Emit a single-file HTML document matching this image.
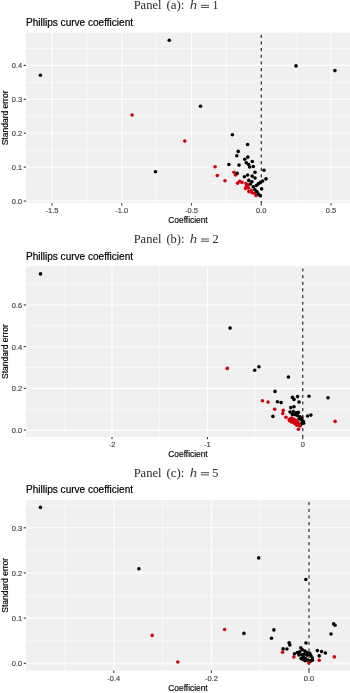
<!DOCTYPE html>
<html><head><meta charset="utf-8"><title>Phillips curve coefficient</title>
<style>html,body{margin:0;padding:0;background:#fff;}body{width:350px;height:693px;overflow:hidden;font-family:"Liberation Sans", sans-serif;}svg{display:block;filter:blur(0.3px);}</style>
</head><body>
<svg width="350" height="693" viewBox="0 0 350 693">
<rect x="0" y="0" width="350" height="693" fill="#ffffff"/>
<rect x="26" y="32.6" width="324" height="170.6" fill="#EFF0EF"/>
<line x1="86.88" y1="32.6" x2="86.88" y2="203.2" stroke="#fff" stroke-width="0.55"/>
<line x1="156.62" y1="32.6" x2="156.62" y2="203.2" stroke="#fff" stroke-width="0.55"/>
<line x1="226.38" y1="32.6" x2="226.38" y2="203.2" stroke="#fff" stroke-width="0.55"/>
<line x1="296.12" y1="32.6" x2="296.12" y2="203.2" stroke="#fff" stroke-width="0.55"/>
<line x1="26" y1="184.05" x2="350" y2="184.05" stroke="#fff" stroke-width="0.55"/>
<line x1="26" y1="150.15" x2="350" y2="150.15" stroke="#fff" stroke-width="0.55"/>
<line x1="26" y1="116.25" x2="350" y2="116.25" stroke="#fff" stroke-width="0.55"/>
<line x1="26" y1="82.35" x2="350" y2="82.35" stroke="#fff" stroke-width="0.55"/>
<line x1="26" y1="48.45" x2="350" y2="48.45" stroke="#fff" stroke-width="0.55"/>
<line x1="52" y1="32.6" x2="52" y2="203.2" stroke="#fff" stroke-width="1.07"/>
<line x1="121.75" y1="32.6" x2="121.75" y2="203.2" stroke="#fff" stroke-width="1.07"/>
<line x1="191.5" y1="32.6" x2="191.5" y2="203.2" stroke="#fff" stroke-width="1.07"/>
<line x1="261.25" y1="32.6" x2="261.25" y2="203.2" stroke="#fff" stroke-width="1.07"/>
<line x1="331" y1="32.6" x2="331" y2="203.2" stroke="#fff" stroke-width="1.07"/>
<line x1="26" y1="201" x2="350" y2="201" stroke="#fff" stroke-width="1.07"/>
<line x1="26" y1="167.1" x2="350" y2="167.1" stroke="#fff" stroke-width="1.07"/>
<line x1="26" y1="133.2" x2="350" y2="133.2" stroke="#fff" stroke-width="1.07"/>
<line x1="26" y1="99.3" x2="350" y2="99.3" stroke="#fff" stroke-width="1.07"/>
<line x1="26" y1="65.4" x2="350" y2="65.4" stroke="#fff" stroke-width="1.07"/>
<line x1="261.25" y1="32.6" x2="261.25" y2="203.2" stroke="#111" stroke-width="1.07" stroke-dasharray="3.2 3.45" stroke-dashoffset="4.55"/>
<circle cx="132.1" cy="115" r="1.8" fill="#D0000F"/>
<circle cx="184.8" cy="141.1" r="1.8" fill="#D0000F"/>
<circle cx="215.1" cy="166.8" r="1.8" fill="#D0000F"/>
<circle cx="217.3" cy="175.6" r="1.8" fill="#D0000F"/>
<circle cx="225" cy="180.8" r="1.8" fill="#D0000F"/>
<circle cx="234" cy="172.3" r="1.8" fill="#D0000F"/>
<circle cx="235.5" cy="174.9" r="1.8" fill="#D0000F"/>
<circle cx="239.6" cy="181.2" r="1.8" fill="#D0000F"/>
<circle cx="237.6" cy="183.2" r="1.8" fill="#D0000F"/>
<circle cx="242" cy="182.4" r="1.8" fill="#D0000F"/>
<circle cx="246" cy="183.6" r="1.8" fill="#D0000F"/>
<circle cx="246.4" cy="186.4" r="1.8" fill="#D0000F"/>
<circle cx="245.6" cy="188.4" r="1.8" fill="#D0000F"/>
<circle cx="248.4" cy="188" r="1.8" fill="#D0000F"/>
<circle cx="248.8" cy="191.6" r="1.8" fill="#D0000F"/>
<circle cx="251.2" cy="190.4" r="1.8" fill="#D0000F"/>
<circle cx="252" cy="192.8" r="1.8" fill="#D0000F"/>
<circle cx="254.4" cy="193.2" r="1.8" fill="#D0000F"/>
<circle cx="256" cy="195.6" r="1.8" fill="#D0000F"/>
<circle cx="248" cy="185" r="1.8" fill="#D0000F"/>
<circle cx="40.4" cy="75.3" r="1.8" fill="#000000"/>
<circle cx="169.3" cy="40.3" r="1.8" fill="#000000"/>
<circle cx="200.5" cy="106.2" r="1.8" fill="#000000"/>
<circle cx="155.5" cy="171.7" r="1.8" fill="#000000"/>
<circle cx="296" cy="65.9" r="1.8" fill="#000000"/>
<circle cx="334.9" cy="70.6" r="1.8" fill="#000000"/>
<circle cx="232.4" cy="134.7" r="1.8" fill="#000000"/>
<circle cx="238.2" cy="151.4" r="1.8" fill="#000000"/>
<circle cx="236.8" cy="155.8" r="1.8" fill="#000000"/>
<circle cx="228.9" cy="164.5" r="1.8" fill="#000000"/>
<circle cx="239" cy="165.1" r="1.8" fill="#000000"/>
<circle cx="247.6" cy="144.5" r="1.8" fill="#000000"/>
<circle cx="247.9" cy="157.1" r="1.8" fill="#000000"/>
<circle cx="244.8" cy="159.2" r="1.8" fill="#000000"/>
<circle cx="252.3" cy="161.5" r="1.8" fill="#000000"/>
<circle cx="246.3" cy="162.7" r="1.8" fill="#000000"/>
<circle cx="248.6" cy="164.6" r="1.8" fill="#000000"/>
<circle cx="249.6" cy="167" r="1.8" fill="#000000"/>
<circle cx="253.3" cy="166.5" r="1.8" fill="#000000"/>
<circle cx="264" cy="170.3" r="1.8" fill="#000000"/>
<circle cx="255" cy="172.3" r="1.8" fill="#000000"/>
<circle cx="252.2" cy="176.1" r="1.8" fill="#000000"/>
<circle cx="255" cy="178" r="1.8" fill="#000000"/>
<circle cx="244.4" cy="176.8" r="1.8" fill="#000000"/>
<circle cx="247.6" cy="175" r="1.8" fill="#000000"/>
<circle cx="266" cy="178.9" r="1.8" fill="#000000"/>
<circle cx="262.6" cy="181.1" r="1.8" fill="#000000"/>
<circle cx="260.4" cy="182.4" r="1.8" fill="#000000"/>
<circle cx="258.2" cy="183.9" r="1.8" fill="#000000"/>
<circle cx="256.3" cy="185.5" r="1.8" fill="#000000"/>
<circle cx="251.9" cy="181.7" r="1.8" fill="#000000"/>
<circle cx="248.8" cy="180.4" r="1.8" fill="#000000"/>
<circle cx="250.4" cy="184" r="1.8" fill="#000000"/>
<circle cx="261.6" cy="188.8" r="1.8" fill="#000000"/>
<circle cx="253.2" cy="186.8" r="1.8" fill="#000000"/>
<circle cx="254.8" cy="189.6" r="1.8" fill="#000000"/>
<circle cx="256.8" cy="191.6" r="1.8" fill="#000000"/>
<circle cx="258.4" cy="194" r="1.8" fill="#000000"/>
<circle cx="260" cy="195.6" r="1.8" fill="#000000"/>
<circle cx="237.2" cy="173.4" r="1.8" fill="#000000"/>
<line x1="52" y1="203.2" x2="52" y2="205.5" stroke="#333" stroke-width="1.07"/>
<text x="52" y="213.2" font-family='"Liberation Sans", sans-serif' font-size="7.5" fill="#444444" stroke="#444444" stroke-width="0.15" text-anchor="middle">-1.5</text>
<line x1="121.75" y1="203.2" x2="121.75" y2="205.5" stroke="#333" stroke-width="1.07"/>
<text x="121.75" y="213.2" font-family='"Liberation Sans", sans-serif' font-size="7.5" fill="#444444" stroke="#444444" stroke-width="0.15" text-anchor="middle">-1.0</text>
<line x1="191.5" y1="203.2" x2="191.5" y2="205.5" stroke="#333" stroke-width="1.07"/>
<text x="191.5" y="213.2" font-family='"Liberation Sans", sans-serif' font-size="7.5" fill="#444444" stroke="#444444" stroke-width="0.15" text-anchor="middle">-0.5</text>
<line x1="261.25" y1="203.2" x2="261.25" y2="205.5" stroke="#333" stroke-width="1.07"/>
<text x="261.25" y="213.2" font-family='"Liberation Sans", sans-serif' font-size="7.5" fill="#444444" stroke="#444444" stroke-width="0.15" text-anchor="middle">0.0</text>
<line x1="331" y1="203.2" x2="331" y2="205.5" stroke="#333" stroke-width="1.07"/>
<text x="331" y="213.2" font-family='"Liberation Sans", sans-serif' font-size="7.5" fill="#444444" stroke="#444444" stroke-width="0.15" text-anchor="middle">0.5</text>
<line x1="23.7" y1="201" x2="26" y2="201" stroke="#333" stroke-width="1.07"/>
<text x="22.3" y="203.9" font-family='"Liberation Sans", sans-serif' font-size="7.5" fill="#444444" stroke="#444444" stroke-width="0.15" text-anchor="end">0.0</text>
<line x1="23.7" y1="167.1" x2="26" y2="167.1" stroke="#333" stroke-width="1.07"/>
<text x="22.3" y="170" font-family='"Liberation Sans", sans-serif' font-size="7.5" fill="#444444" stroke="#444444" stroke-width="0.15" text-anchor="end">0.1</text>
<line x1="23.7" y1="133.2" x2="26" y2="133.2" stroke="#333" stroke-width="1.07"/>
<text x="22.3" y="136.1" font-family='"Liberation Sans", sans-serif' font-size="7.5" fill="#444444" stroke="#444444" stroke-width="0.15" text-anchor="end">0.2</text>
<line x1="23.7" y1="99.3" x2="26" y2="99.3" stroke="#333" stroke-width="1.07"/>
<text x="22.3" y="102.2" font-family='"Liberation Sans", sans-serif' font-size="7.5" fill="#444444" stroke="#444444" stroke-width="0.15" text-anchor="end">0.3</text>
<line x1="23.7" y1="65.4" x2="26" y2="65.4" stroke="#333" stroke-width="1.07"/>
<text x="22.3" y="68.3" font-family='"Liberation Sans", sans-serif' font-size="7.5" fill="#444444" stroke="#444444" stroke-width="0.15" text-anchor="end">0.4</text>
<text x="188" y="223.2" font-family='"Liberation Sans", sans-serif' font-size="8.4" fill="#000" stroke="#000" stroke-width="0.15" text-anchor="middle">Coefficient</text>
<text x="0" y="0" transform="translate(7.9 117.9) rotate(-90)" font-family='"Liberation Sans", sans-serif' font-size="8.5" fill="#000" stroke="#000" stroke-width="0.15" text-anchor="middle">Standard error</text>
<text x="26" y="26" font-family='"Liberation Sans", sans-serif' font-size="10.05" fill="#000" stroke="#000" stroke-width="0.2">Phillips curve coefficient</text>
<text x="0" y="0" transform="translate(133.64 9.10) scale(1.0132 1.080)" font-family='"Liberation Serif", serif' font-size="12.4" fill="#2a2a2a">Panel</text>
<text x="0" y="0" transform="translate(166.43 9.10) scale(1.0472 1.080)" font-family='"Liberation Serif", serif' font-size="12.4" fill="#2a2a2a">(a):</text>
<text x="0" y="0" transform="translate(189.87 9.10) scale(1.1848 1.080)" font-family='"Liberation Serif", serif' font-size="12.4" font-style="italic" fill="#3a3a3a">h</text>
<rect x="201.0" y="4.9" width="8.0" height="0.8" fill="#222"/>
<rect x="201.0" y="7.1" width="8.0" height="0.8" fill="#222"/>
<text x="0" y="0" transform="translate(212.55 9.10) scale(0.9622 1.080)" font-family='"Liberation Serif", serif' font-size="12.4" fill="#2a2a2a">1</text>
<rect x="26" y="266.3" width="324" height="170.6" fill="#EFF0EF"/>
<line x1="64.3" y1="266.3" x2="64.3" y2="436.9" stroke="#fff" stroke-width="0.55"/>
<line x1="159.7" y1="266.3" x2="159.7" y2="436.9" stroke="#fff" stroke-width="0.55"/>
<line x1="255.1" y1="266.3" x2="255.1" y2="436.9" stroke="#fff" stroke-width="0.55"/>
<line x1="26" y1="409.24" x2="350" y2="409.24" stroke="#fff" stroke-width="0.55"/>
<line x1="26" y1="367.52" x2="350" y2="367.52" stroke="#fff" stroke-width="0.55"/>
<line x1="26" y1="325.8" x2="350" y2="325.8" stroke="#fff" stroke-width="0.55"/>
<line x1="26" y1="284.08" x2="350" y2="284.08" stroke="#fff" stroke-width="0.55"/>
<line x1="112" y1="266.3" x2="112" y2="436.9" stroke="#fff" stroke-width="1.07"/>
<line x1="207.4" y1="266.3" x2="207.4" y2="436.9" stroke="#fff" stroke-width="1.07"/>
<line x1="302.8" y1="266.3" x2="302.8" y2="436.9" stroke="#fff" stroke-width="1.07"/>
<line x1="26" y1="430.1" x2="350" y2="430.1" stroke="#fff" stroke-width="1.07"/>
<line x1="26" y1="388.38" x2="350" y2="388.38" stroke="#fff" stroke-width="1.07"/>
<line x1="26" y1="346.66" x2="350" y2="346.66" stroke="#fff" stroke-width="1.07"/>
<line x1="26" y1="304.94" x2="350" y2="304.94" stroke="#fff" stroke-width="1.07"/>
<line x1="302.8" y1="266.3" x2="302.8" y2="436.9" stroke="#111" stroke-width="1.07" stroke-dasharray="3.2 3.45" stroke-dashoffset="4.55"/>
<circle cx="40.5" cy="273.9" r="1.8" fill="#000000"/>
<circle cx="230.1" cy="328.1" r="1.8" fill="#000000"/>
<circle cx="254.7" cy="370.2" r="1.8" fill="#000000"/>
<circle cx="258.9" cy="366.7" r="1.8" fill="#000000"/>
<circle cx="275" cy="391.4" r="1.8" fill="#000000"/>
<circle cx="288.4" cy="377" r="1.8" fill="#000000"/>
<circle cx="292.4" cy="397.4" r="1.8" fill="#000000"/>
<circle cx="294" cy="399.4" r="1.8" fill="#000000"/>
<circle cx="297.6" cy="396.6" r="1.8" fill="#000000"/>
<circle cx="309" cy="396.2" r="1.8" fill="#000000"/>
<circle cx="328" cy="397.7" r="1.8" fill="#000000"/>
<circle cx="277.4" cy="401.7" r="1.8" fill="#000000"/>
<circle cx="281.1" cy="402.6" r="1.8" fill="#000000"/>
<circle cx="299" cy="402.1" r="1.8" fill="#000000"/>
<circle cx="272.9" cy="416.4" r="1.8" fill="#000000"/>
<circle cx="290.8" cy="407.6" r="1.8" fill="#000000"/>
<circle cx="294" cy="406.8" r="1.8" fill="#000000"/>
<circle cx="290" cy="412" r="1.8" fill="#000000"/>
<circle cx="293.2" cy="411.6" r="1.8" fill="#000000"/>
<circle cx="296" cy="412.8" r="1.8" fill="#000000"/>
<circle cx="298.4" cy="412.4" r="1.8" fill="#000000"/>
<circle cx="292.4" cy="414.4" r="1.8" fill="#000000"/>
<circle cx="295.2" cy="414.8" r="1.8" fill="#000000"/>
<circle cx="297.6" cy="415.6" r="1.8" fill="#000000"/>
<circle cx="300" cy="416.8" r="1.8" fill="#000000"/>
<circle cx="302" cy="418" r="1.8" fill="#000000"/>
<circle cx="299.2" cy="418.8" r="1.8" fill="#000000"/>
<circle cx="301.6" cy="420" r="1.8" fill="#000000"/>
<circle cx="303.2" cy="421.2" r="1.8" fill="#000000"/>
<circle cx="302.4" cy="422.8" r="1.8" fill="#000000"/>
<circle cx="303.6" cy="423.2" r="1.8" fill="#000000"/>
<circle cx="300.8" cy="424.4" r="1.8" fill="#000000"/>
<circle cx="307.6" cy="416" r="1.8" fill="#000000"/>
<circle cx="310.9" cy="415.1" r="1.8" fill="#000000"/>
<circle cx="227.3" cy="368.4" r="1.8" fill="#D0000F"/>
<circle cx="262.4" cy="400.7" r="1.8" fill="#D0000F"/>
<circle cx="268.1" cy="402.1" r="1.8" fill="#D0000F"/>
<circle cx="274.7" cy="409.3" r="1.8" fill="#D0000F"/>
<circle cx="283.2" cy="410.4" r="1.8" fill="#D0000F"/>
<circle cx="282.8" cy="413.6" r="1.8" fill="#D0000F"/>
<circle cx="286" cy="417.2" r="1.8" fill="#D0000F"/>
<circle cx="290.4" cy="418.8" r="1.8" fill="#D0000F"/>
<circle cx="292.4" cy="419.6" r="1.8" fill="#D0000F"/>
<circle cx="294" cy="421.2" r="1.8" fill="#D0000F"/>
<circle cx="295.6" cy="422.4" r="1.8" fill="#D0000F"/>
<circle cx="297.6" cy="423.6" r="1.8" fill="#D0000F"/>
<circle cx="299.2" cy="424.8" r="1.8" fill="#D0000F"/>
<circle cx="300" cy="426" r="1.8" fill="#D0000F"/>
<circle cx="298.4" cy="429.2" r="1.8" fill="#D0000F"/>
<circle cx="290.8" cy="420.4" r="1.8" fill="#D0000F"/>
<circle cx="292.4" cy="422" r="1.8" fill="#D0000F"/>
<circle cx="294.8" cy="423.6" r="1.8" fill="#D0000F"/>
<circle cx="296.8" cy="425.2" r="1.8" fill="#D0000F"/>
<circle cx="289.2" cy="419.6" r="1.8" fill="#D0000F"/>
<circle cx="335.1" cy="421.4" r="1.8" fill="#D0000F"/>
<circle cx="291.6" cy="418" r="1.8" fill="#D0000F"/>
<circle cx="294" cy="419.2" r="1.8" fill="#D0000F"/>
<circle cx="296" cy="420.4" r="1.8" fill="#D0000F"/>
<circle cx="298" cy="422" r="1.8" fill="#D0000F"/>
<circle cx="289.6" cy="420.8" r="1.8" fill="#D0000F"/>
<circle cx="291.6" cy="422" r="1.8" fill="#D0000F"/>
<line x1="112" y1="436.9" x2="112" y2="439.2" stroke="#333" stroke-width="1.07"/>
<text x="112" y="446.9" font-family='"Liberation Sans", sans-serif' font-size="7.5" fill="#444444" stroke="#444444" stroke-width="0.15" text-anchor="middle">-2</text>
<line x1="207.4" y1="436.9" x2="207.4" y2="439.2" stroke="#333" stroke-width="1.07"/>
<text x="207.4" y="446.9" font-family='"Liberation Sans", sans-serif' font-size="7.5" fill="#444444" stroke="#444444" stroke-width="0.15" text-anchor="middle">-1</text>
<line x1="302.8" y1="436.9" x2="302.8" y2="439.2" stroke="#333" stroke-width="1.07"/>
<text x="302.8" y="446.9" font-family='"Liberation Sans", sans-serif' font-size="7.5" fill="#444444" stroke="#444444" stroke-width="0.15" text-anchor="middle">0</text>
<line x1="23.7" y1="430.1" x2="26" y2="430.1" stroke="#333" stroke-width="1.07"/>
<text x="22.3" y="433" font-family='"Liberation Sans", sans-serif' font-size="7.5" fill="#444444" stroke="#444444" stroke-width="0.15" text-anchor="end">0.0</text>
<line x1="23.7" y1="388.38" x2="26" y2="388.38" stroke="#333" stroke-width="1.07"/>
<text x="22.3" y="391.28" font-family='"Liberation Sans", sans-serif' font-size="7.5" fill="#444444" stroke="#444444" stroke-width="0.15" text-anchor="end">0.2</text>
<line x1="23.7" y1="346.66" x2="26" y2="346.66" stroke="#333" stroke-width="1.07"/>
<text x="22.3" y="349.56" font-family='"Liberation Sans", sans-serif' font-size="7.5" fill="#444444" stroke="#444444" stroke-width="0.15" text-anchor="end">0.4</text>
<line x1="23.7" y1="304.94" x2="26" y2="304.94" stroke="#333" stroke-width="1.07"/>
<text x="22.3" y="307.84" font-family='"Liberation Sans", sans-serif' font-size="7.5" fill="#444444" stroke="#444444" stroke-width="0.15" text-anchor="end">0.6</text>
<text x="188" y="456.9" font-family='"Liberation Sans", sans-serif' font-size="8.4" fill="#000" stroke="#000" stroke-width="0.15" text-anchor="middle">Coefficient</text>
<text x="0" y="0" transform="translate(7.9 351.6) rotate(-90)" font-family='"Liberation Sans", sans-serif' font-size="8.5" fill="#000" stroke="#000" stroke-width="0.15" text-anchor="middle">Standard error</text>
<text x="26" y="259.7" font-family='"Liberation Sans", sans-serif' font-size="10.05" fill="#000" stroke="#000" stroke-width="0.2">Phillips curve coefficient</text>
<text x="0" y="0" transform="translate(133.64 242.80) scale(1.0132 1.080)" font-family='"Liberation Serif", serif' font-size="12.4" fill="#2a2a2a">Panel</text>
<text x="0" y="0" transform="translate(166.45 242.80) scale(1.0027 1.080)" font-family='"Liberation Serif", serif' font-size="12.4" fill="#2a2a2a">(b):</text>
<text x="0" y="0" transform="translate(189.87 242.80) scale(1.1848 1.080)" font-family='"Liberation Serif", serif' font-size="12.4" font-style="italic" fill="#3a3a3a">h</text>
<rect x="201.0" y="238.6" width="8.0" height="0.8" fill="#222"/>
<rect x="201.0" y="240.8" width="8.0" height="0.8" fill="#222"/>
<text x="0" y="0" transform="translate(212.23 242.80) scale(1.0458 1.080)" font-family='"Liberation Serif", serif' font-size="12.4" fill="#2a2a2a">2</text>
<rect x="26" y="500" width="324" height="170.6" fill="#EFF0EF"/>
<line x1="65" y1="500" x2="65" y2="670.6" stroke="#fff" stroke-width="0.55"/>
<line x1="162.6" y1="500" x2="162.6" y2="670.6" stroke="#fff" stroke-width="0.55"/>
<line x1="260.2" y1="500" x2="260.2" y2="670.6" stroke="#fff" stroke-width="0.55"/>
<line x1="26" y1="640.71" x2="350" y2="640.71" stroke="#fff" stroke-width="0.55"/>
<line x1="26" y1="595.54" x2="350" y2="595.54" stroke="#fff" stroke-width="0.55"/>
<line x1="26" y1="550.38" x2="350" y2="550.38" stroke="#fff" stroke-width="0.55"/>
<line x1="26" y1="505.2" x2="350" y2="505.2" stroke="#fff" stroke-width="0.55"/>
<line x1="113.8" y1="500" x2="113.8" y2="670.6" stroke="#fff" stroke-width="1.07"/>
<line x1="211.4" y1="500" x2="211.4" y2="670.6" stroke="#fff" stroke-width="1.07"/>
<line x1="309" y1="500" x2="309" y2="670.6" stroke="#fff" stroke-width="1.07"/>
<line x1="26" y1="663.3" x2="350" y2="663.3" stroke="#fff" stroke-width="1.07"/>
<line x1="26" y1="618.13" x2="350" y2="618.13" stroke="#fff" stroke-width="1.07"/>
<line x1="26" y1="572.96" x2="350" y2="572.96" stroke="#fff" stroke-width="1.07"/>
<line x1="26" y1="527.79" x2="350" y2="527.79" stroke="#fff" stroke-width="1.07"/>
<line x1="309" y1="500" x2="309" y2="670.6" stroke="#111" stroke-width="1.07" stroke-dasharray="3.2 3.45" stroke-dashoffset="4.55"/>
<circle cx="40.4" cy="507.4" r="1.8" fill="#000000"/>
<circle cx="138.9" cy="568.8" r="1.8" fill="#000000"/>
<circle cx="258.7" cy="557.9" r="1.8" fill="#000000"/>
<circle cx="305.8" cy="579.5" r="1.8" fill="#000000"/>
<circle cx="243.9" cy="633.4" r="1.8" fill="#000000"/>
<circle cx="273.9" cy="629.9" r="1.8" fill="#000000"/>
<circle cx="271.5" cy="638.3" r="1.8" fill="#000000"/>
<circle cx="289.1" cy="642.8" r="1.8" fill="#000000"/>
<circle cx="289.8" cy="644.9" r="1.8" fill="#000000"/>
<circle cx="283.1" cy="648.9" r="1.8" fill="#000000"/>
<circle cx="286.9" cy="649" r="1.8" fill="#000000"/>
<circle cx="306" cy="643" r="1.8" fill="#000000"/>
<circle cx="300.8" cy="647.8" r="1.8" fill="#000000"/>
<circle cx="302.3" cy="649.7" r="1.8" fill="#000000"/>
<circle cx="294.5" cy="653.7" r="1.8" fill="#000000"/>
<circle cx="297.4" cy="652.6" r="1.8" fill="#000000"/>
<circle cx="299.7" cy="651.9" r="1.8" fill="#000000"/>
<circle cx="304.9" cy="651.1" r="1.8" fill="#000000"/>
<circle cx="307.1" cy="652.6" r="1.8" fill="#000000"/>
<circle cx="309.7" cy="653.4" r="1.8" fill="#000000"/>
<circle cx="310.8" cy="655.6" r="1.8" fill="#000000"/>
<circle cx="312.3" cy="657.8" r="1.8" fill="#000000"/>
<circle cx="301.1" cy="658.6" r="1.8" fill="#000000"/>
<circle cx="303.4" cy="657.1" r="1.8" fill="#000000"/>
<circle cx="305.6" cy="658.6" r="1.8" fill="#000000"/>
<circle cx="307.8" cy="660.1" r="1.8" fill="#000000"/>
<circle cx="310.4" cy="660.8" r="1.8" fill="#000000"/>
<circle cx="305.2" cy="660.7" r="1.8" fill="#000000"/>
<circle cx="303.1" cy="659.6" r="1.8" fill="#000000"/>
<circle cx="312.4" cy="660.2" r="1.8" fill="#000000"/>
<circle cx="310.3" cy="661.2" r="1.8" fill="#000000"/>
<circle cx="304.1" cy="654.1" r="1.8" fill="#000000"/>
<circle cx="298.9" cy="654.9" r="1.8" fill="#000000"/>
<circle cx="301.9" cy="654.9" r="1.8" fill="#000000"/>
<circle cx="307.1" cy="655.2" r="1.8" fill="#000000"/>
<circle cx="317.3" cy="650.6" r="1.8" fill="#000000"/>
<circle cx="321.6" cy="651.6" r="1.8" fill="#000000"/>
<circle cx="325.4" cy="653" r="1.8" fill="#000000"/>
<circle cx="319.2" cy="655.9" r="1.8" fill="#000000"/>
<circle cx="333.6" cy="623.9" r="1.8" fill="#000000"/>
<circle cx="335" cy="625.3" r="1.8" fill="#000000"/>
<circle cx="331" cy="634" r="1.8" fill="#000000"/>
<circle cx="152.2" cy="635.4" r="1.8" fill="#D0000F"/>
<circle cx="177.8" cy="662" r="1.8" fill="#D0000F"/>
<circle cx="224.6" cy="629.5" r="1.8" fill="#D0000F"/>
<circle cx="282.6" cy="652.2" r="1.8" fill="#D0000F"/>
<circle cx="293.9" cy="656.9" r="1.8" fill="#D0000F"/>
<circle cx="308.8" cy="663" r="1.8" fill="#D0000F"/>
<circle cx="319.2" cy="660.2" r="1.8" fill="#D0000F"/>
<circle cx="334.3" cy="656.9" r="1.8" fill="#D0000F"/>
<line x1="113.8" y1="670.6" x2="113.8" y2="672.9" stroke="#333" stroke-width="1.07"/>
<text x="113.8" y="680.6" font-family='"Liberation Sans", sans-serif' font-size="7.5" fill="#444444" stroke="#444444" stroke-width="0.15" text-anchor="middle">-0.4</text>
<line x1="211.4" y1="670.6" x2="211.4" y2="672.9" stroke="#333" stroke-width="1.07"/>
<text x="211.4" y="680.6" font-family='"Liberation Sans", sans-serif' font-size="7.5" fill="#444444" stroke="#444444" stroke-width="0.15" text-anchor="middle">-0.2</text>
<line x1="309" y1="670.6" x2="309" y2="672.9" stroke="#333" stroke-width="1.07"/>
<text x="309" y="680.6" font-family='"Liberation Sans", sans-serif' font-size="7.5" fill="#444444" stroke="#444444" stroke-width="0.15" text-anchor="middle">0.0</text>
<line x1="23.7" y1="663.3" x2="26" y2="663.3" stroke="#333" stroke-width="1.07"/>
<text x="22.3" y="666.2" font-family='"Liberation Sans", sans-serif' font-size="7.5" fill="#444444" stroke="#444444" stroke-width="0.15" text-anchor="end">0.0</text>
<line x1="23.7" y1="618.13" x2="26" y2="618.13" stroke="#333" stroke-width="1.07"/>
<text x="22.3" y="621.03" font-family='"Liberation Sans", sans-serif' font-size="7.5" fill="#444444" stroke="#444444" stroke-width="0.15" text-anchor="end">0.1</text>
<line x1="23.7" y1="572.96" x2="26" y2="572.96" stroke="#333" stroke-width="1.07"/>
<text x="22.3" y="575.86" font-family='"Liberation Sans", sans-serif' font-size="7.5" fill="#444444" stroke="#444444" stroke-width="0.15" text-anchor="end">0.2</text>
<line x1="23.7" y1="527.79" x2="26" y2="527.79" stroke="#333" stroke-width="1.07"/>
<text x="22.3" y="530.69" font-family='"Liberation Sans", sans-serif' font-size="7.5" fill="#444444" stroke="#444444" stroke-width="0.15" text-anchor="end">0.3</text>
<text x="188" y="690.6" font-family='"Liberation Sans", sans-serif' font-size="8.4" fill="#000" stroke="#000" stroke-width="0.15" text-anchor="middle">Coefficient</text>
<text x="0" y="0" transform="translate(7.9 585.3) rotate(-90)" font-family='"Liberation Sans", sans-serif' font-size="8.5" fill="#000" stroke="#000" stroke-width="0.15" text-anchor="middle">Standard error</text>
<text x="26" y="493.4" font-family='"Liberation Sans", sans-serif' font-size="10.05" fill="#000" stroke="#000" stroke-width="0.2">Phillips curve coefficient</text>
<text x="0" y="0" transform="translate(133.64 476.50) scale(1.0132 1.080)" font-family='"Liberation Serif", serif' font-size="12.4" fill="#2a2a2a">Panel</text>
<text x="0" y="0" transform="translate(166.43 476.50) scale(1.0472 1.080)" font-family='"Liberation Serif", serif' font-size="12.4" fill="#2a2a2a">(c):</text>
<text x="0" y="0" transform="translate(189.87 476.50) scale(1.1848 1.080)" font-family='"Liberation Serif", serif' font-size="12.4" font-style="italic" fill="#3a3a3a">h</text>
<rect x="201.0" y="472.3" width="8.0" height="0.8" fill="#222"/>
<rect x="201.0" y="474.5" width="8.0" height="0.8" fill="#222"/>
<text x="0" y="0" transform="translate(212.05 476.50) scale(1.0406 1.080)" font-family='"Liberation Serif", serif' font-size="12.4" fill="#2a2a2a">5</text>
</svg>
</body></html>
